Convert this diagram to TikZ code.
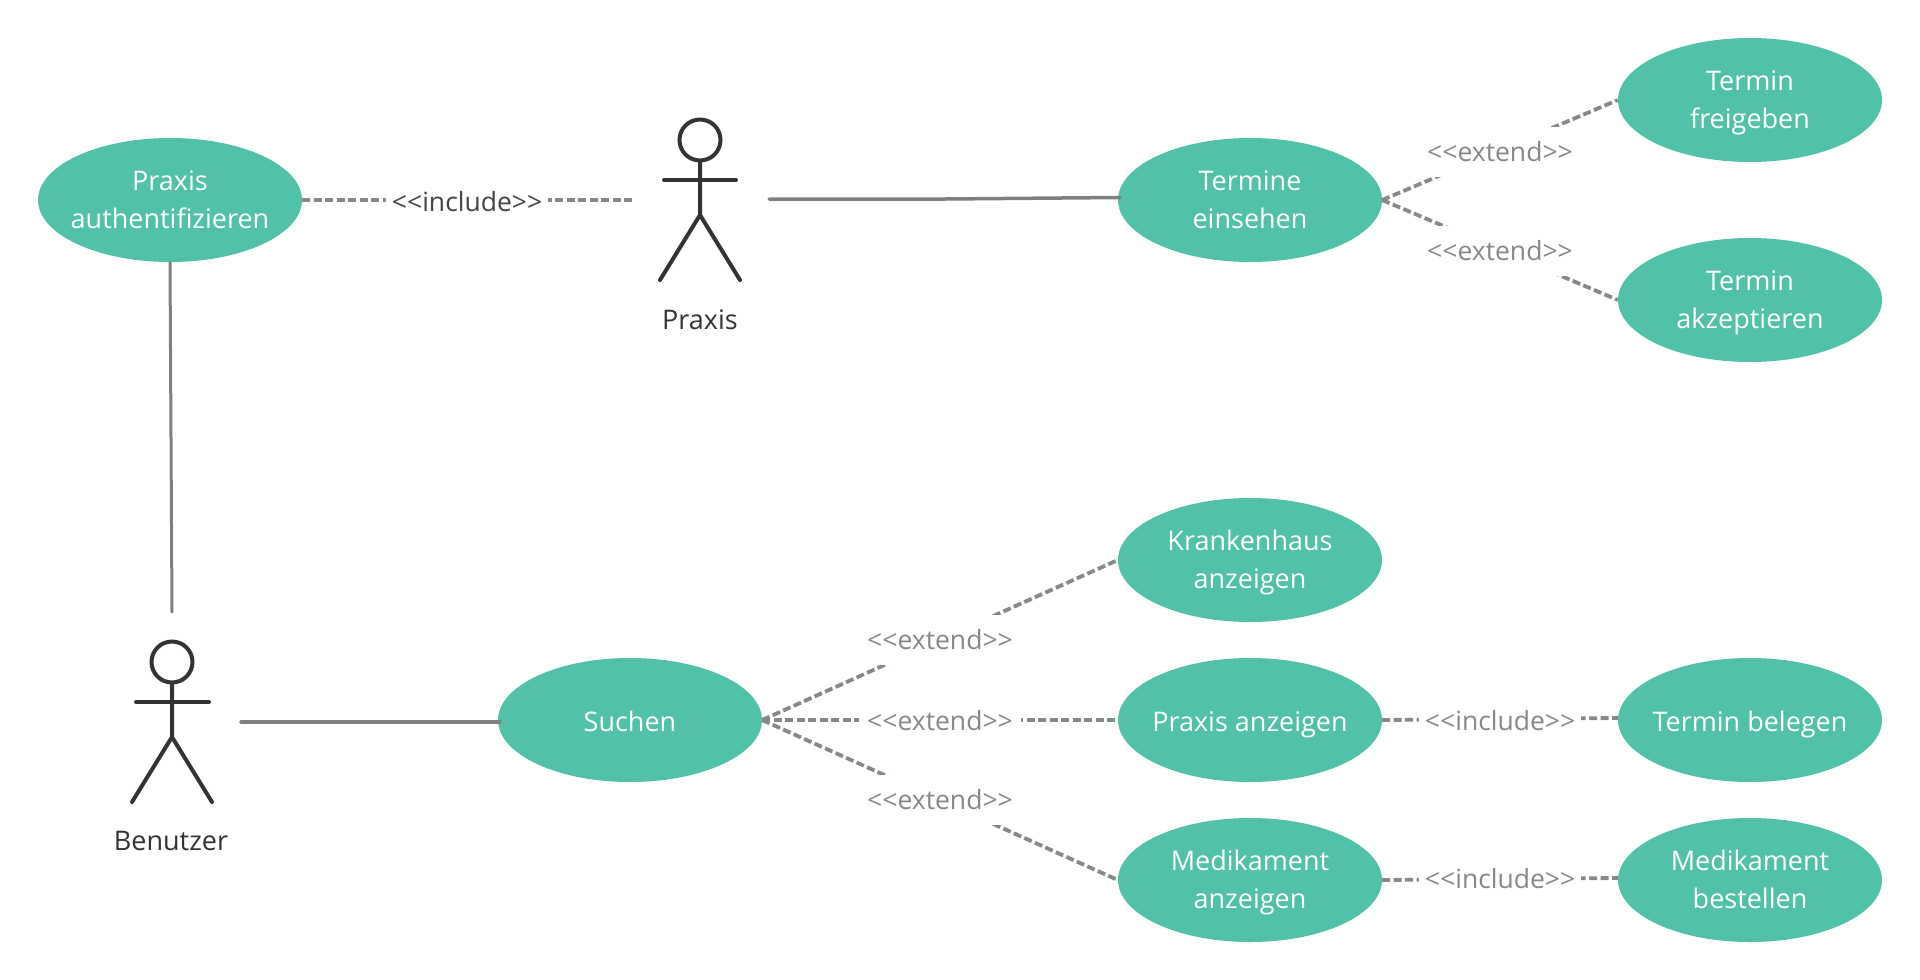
\documentclass[tikz,border=0pt]{standalone}
\usepackage{fontspec}
\setmainfont{Open Sans}
\usetikzlibrary{shapes.geometric}
\definecolor{usecase}{HTML}{51C1AA}
\definecolor{conn}{HTML}{7F7F7F}
\definecolor{dashc}{HTML}{888888}
\definecolor{ink}{HTML}{333333}
\definecolor{inkl}{HTML}{444444}
\newcommand{\incl}{<{}<include>{}>}
\newcommand{\extd}{<{}<extend>{}>}
\tikzset{
  usecase/.style={ellipse,fill=usecase,text=white,inner xsep=-50pt,inner ysep=-30pt,minimum width=264pt,minimum height=124pt,align=center,font=\fontsize{27}{38}\selectfont,execute at end node=\rule[-8.8pt]{0pt}{0pt}},
  twoline/.style={usecase,execute at begin node=\rule{0pt}{66pt}},
  oneline/.style={usecase,execute at begin node=\rule{0pt}{31.4pt}},
  assoc/.style={draw=conn,line width=3.5pt,line cap=round},
  dep/.style={draw=dashc,line width=3.8pt,dash pattern=on 8pt off 3.5pt},
  deplabel/.style={fill=white,inner sep=0pt,minimum width=162pt,minimum height=50pt,text=dashc,font=\fontsize{26.5}{30}\selectfont},
  limb/.style={draw=ink,line width=4pt,line cap=round},
  head/.style={circle,draw=ink,line width=4pt,inner sep=0pt,minimum size=41pt},
  actorname/.style={text=ink,font=\fontsize{27}{30}\selectfont,inner sep=0pt},
}
\begin{document}
\begin{tikzpicture}[x=1pt,y=-1pt]
\useasboundingbox (0,0) rectangle (1920,980);
% use cases
\node[twoline] (auth) at (170,200) {Praxis\\authentifizieren};
\node[twoline] (einsehen) at (1250,200) {Termine\\einsehen};
\node[twoline] (freigeben) at (1750,100) {Termin\\freigeben};
\node[twoline] (akzept) at (1750,300) {Termin\\akzeptieren};
\node[twoline] (kranken) at (1250,560) {Krankenhaus\\anzeigen};
\node[oneline] (suchen) at (630,720) {Suchen};
\node[oneline] (panz) at (1250,720) {Praxis anzeigen};
\node[oneline] (belegen) at (1750,720) {Termin belegen};
\node[twoline] (manz) at (1250,880) {Medikament\\anzeigen};
\node[twoline] (bestellen) at (1750,880) {Medikament\\bestellen};
% actor Praxis
\node[head] (phead) at (700,140) {};
\coordinate (parmL) at (664,180);
\coordinate (parmR) at (736,180);
\coordinate (phip) at (700,215);
\coordinate (plegL) at (660,280);
\coordinate (plegR) at (740,280);
\draw[limb] (phead.south) -- (phip) -- (plegL);
\draw[limb] (phip) -- (plegR);
\draw[limb] (parmL) -- (parmR);
\node[actorname] (pname) at (700,320) {Praxis};
% actor Benutzer
\node[head] (bhead) at (172,662) {};
\coordinate (barmL) at (136,702);
\coordinate (barmR) at (209,702);
\coordinate (bhip) at (172,737);
\coordinate (blegL) at (132,802);
\coordinate (blegR) at (212,802);
\draw[limb] (bhead.south) -- (bhip) -- (blegL);
\draw[limb] (bhip) -- (blegR);
\draw[limb] (barmL) -- (barmR);
\node[actorname] (bname) at (171,841) {Benutzer};
% free ends
\coordinate (pinc) at (632,200);
\coordinate (ptop) at (172,612);
\coordinate (pright) at (769,199);
\coordinate (pbend) at (945,199);
\coordinate (ewest) at (1120,197.5);
\coordinate (bright) at (241,722);
\coordinate (swest) at (500,722);
\coordinate (bwest) at (1618,718);
\coordinate (bswest) at (1618,878);
% solid associations
\draw[assoc,line width=3pt] (auth.south) -- (ptop);
\draw[assoc] (pright) -- (pbend) -- (ewest);
\draw[assoc] (bright) -- (swest);
% dependencies
\draw[dep] (auth.east) -- (pinc) node[midway,deplabel,text=inkl,yshift=-1.5pt] (l1) {\incl};
\draw[dep] (einsehen.east) -- (freigeben.west) node[midway,deplabel,yshift=-2pt] (l2) {\extd};
\draw[dep] (einsehen.east) -- (akzept.west) node[midway,deplabel,yshift=-1pt] (l3) {\extd};
\draw[dep] (suchen.east) -- (kranken.west) node[midway,deplabel] (l4) {\extd};
\draw[dep] (suchen.east) -- (panz.west) node[midway,deplabel,yshift=-1pt] (l5) {\extd};
\draw[dep] (suchen.east) -- (manz.west) node[midway,deplabel] (l6) {\extd};
\draw[dep] (panz.east) -- (bwest) node[midway,deplabel,yshift=-1.5pt] (l7) {\incl};
\draw[dep] (manz.east) -- (bswest) node[midway,deplabel] (l8) {\incl};
\end{tikzpicture}
\end{document}
